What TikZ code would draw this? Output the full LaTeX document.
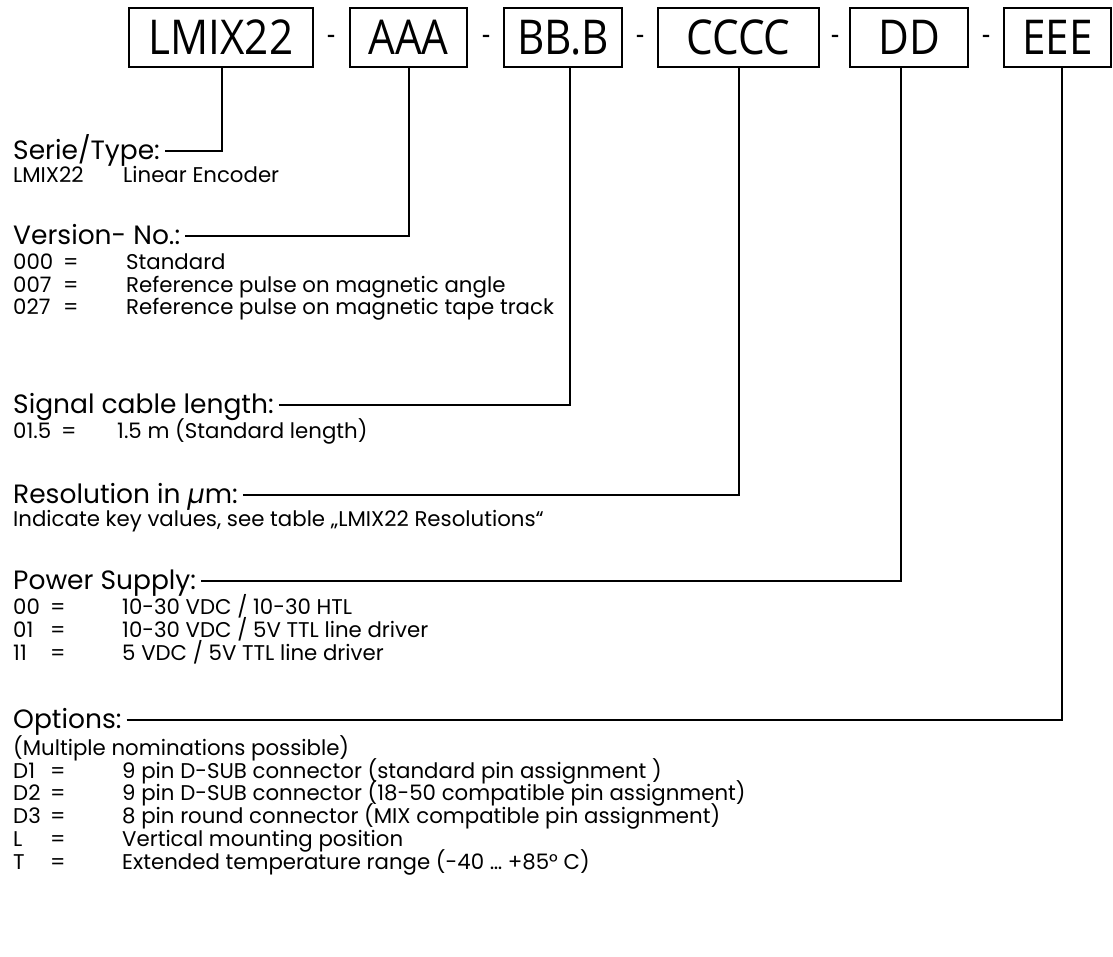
\documentclass[tikz,border=0pt]{standalone}
\usepackage{fontspec}
\setmainfont{Poppins}
\newfontfamily\boxfont[FakeStretch=0.88]{Open Sans}
\begin{document}
\begin{tikzpicture}[x=1pt,y=-1pt,
  codebox/.style={draw, line width=1.3pt, minimum height=59pt, inner sep=0pt,
    font=\boxfont\fontsize{48}{48}\selectfont},
  sep/.style={inner sep=0pt, font=\boxfont\fontsize{30}{30}\selectfont},
  heading/.style={anchor=base west, inner sep=0pt, font=\fontsize{26.5}{26.5}\selectfont},
  item/.style={anchor=base west, inner sep=0pt, font=\fontsize{21.3}{21.3}\selectfont},
  link/.style={line width=1.3pt}]
\useasboundingbox (0,0) rectangle (1113,956);

% ordering code boxes
\node[codebox, minimum width=184pt] (bSer) at (221,37.5) {LMIX22};
\node[codebox, minimum width=117pt] (bVer) at (408.5,37.5) {AAA};
\node[codebox, minimum width=118pt] (bCab) at (563,37.5) {BB.B};
\node[codebox, minimum width=161pt] (bRes) at (738.5,37.5) {CCCC};
\node[codebox, minimum width=118pt] (bPow) at (909,37.5) {DD};
\node[codebox, minimum width=107pt] (bOpt) at (1057.5,37.5) {EEE};
\node[sep] (d1) at (331,40) {-};
\node[sep] (d2) at (486,40) {-};
\node[sep] (d3) at (640,40) {-};
\node[sep] (d4) at (835,40) {-};
\node[sep] (d5) at (986,40) {-};

% drop points under the boxes
\coordinate (tSer) at (222,67);
\coordinate (tVer) at (409,67);
\coordinate (tCab) at (570,67);
\coordinate (tRes) at (739,67);
\coordinate (tPow) at (901,67);
\coordinate (tOpt) at (1062,67);

% headings
\node[heading] (hSer) at (13,159) {Serie/Type:};
\node[heading] (hVer) at (13,244) {Version- No.:};
\node[heading] (hCab) at (13,413) {Signal cable length:};
\node[heading] (hRes) at (13,503) {Resolution in \textit{µ}m:};
\node[heading] (hPow) at (13,589) {Power Supply:};
\node[heading] (hOpt) at (13,728) {Options:};

% leader lines from headings up to the boxes
\foreach \h in {Ser, Ver, Cab, Res, Pow, Opt}{
  \coordinate (s\h) at ([xshift=5pt,yshift=8pt]h\h.base east);
  \draw[link] (s\h) -- (s\h -| t\h) -- (t\h);
}

% Serie/Type
\node[item] (i1a) at (13,182.5) {LMIX22};
\node[item] (i1b) at (123,182.5) {Linear Encoder};

% Version
\node[item] (i2a) at (13,269.5) {\makebox[50pt][l]{000}=};
\node[item] (i2b) at (126,269.5) {Standard};
\node[item] (i3a) at (13,292.5) {\makebox[50pt][l]{007}=};
\node[item] (i3b) at (126,292.5) {Reference pulse on magnetic angle};
\node[item] (i4a) at (13,314.5) {\makebox[50pt][l]{027}=};
\node[item] (i4b) at (126,314.5) {Reference pulse on magnetic tape track};

% Cable length
\node[item] (i5a) at (13,438.5) {\makebox[48pt][l]{01.5}=};
\node[item] (i5b) at (117,438.5) {1.5 m (Standard length)};

% Resolution
\node[item] (i6) at (13,526.5) {Indicate key values, see table „LMIX22 Resolutions“};

% Power supply
\node[item] (i7a) at (13,614.5) {\makebox[37pt][l]{00}=};
\node[item] (i7b) at (122,614.5) {10-30 VDC / 10-30 HTL};
\node[item] (i8a) at (13,637.5) {\makebox[37pt][l]{01}=};
\node[item] (i8b) at (122,637.5) {10-30 VDC / 5V TTL line driver};
\node[item] (i9a) at (13,660.5) {\makebox[37pt][l]{11}=};
\node[item] (i9b) at (122,660.5) {5 VDC / 5V TTL line driver};

% Options
\node[item] (i10) at (13,755.5) {(Multiple nominations possible)};
\node[item] (i11a) at (13,778.5) {\makebox[37pt][l]{D1}=};
\node[item] (i11b) at (122,778.5) {9 pin D-SUB connector (standard pin assignment )};
\node[item] (i12a) at (13,800.5) {\makebox[37pt][l]{D2}=};
\node[item] (i12b) at (122,800.5) {9 pin D-SUB connector (18-50 compatible pin assignment)};
\node[item] (i13a) at (13,823.5) {\makebox[37pt][l]{D3}=};
\node[item] (i13b) at (122,823.5) {8 pin round connector (MIX compatible pin assignment)};
\node[item] (i14a) at (13,846.5) {\makebox[37pt][l]{L}=};
\node[item] (i14b) at (122,846.5) {Vertical mounting position};
\node[item] (i15a) at (13,869.5) {\makebox[37pt][l]{T}=};
\node[item] (i15b) at (122,869.5) {Extended temperature range (-40 … +85° C)};
\end{tikzpicture}
\end{document}
